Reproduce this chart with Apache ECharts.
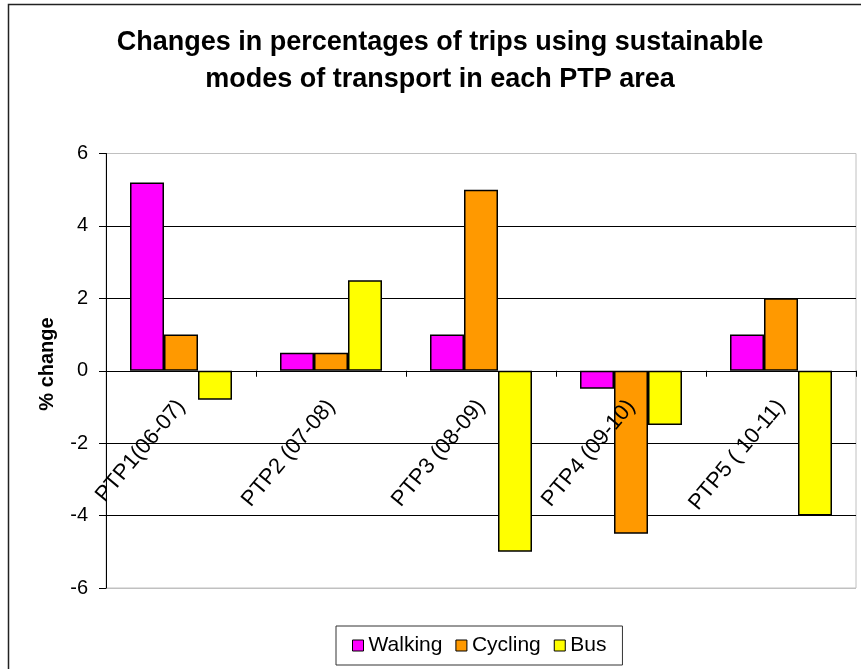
<!DOCTYPE html>
<html>
<head>
<meta charset="utf-8">
<script src="https://cdn.jsdelivr.net/npm/echarts@6/dist/echarts.min.js"></script>
<style>
  html, body { margin: 0; padding: 0; background: #fff; }
  #chart { width: 861px; height: 669px; }
</style>
</head>
<body>
<div id="chart"></div>
<script>
// PTP areas and the change in share of trips for each sustainable mode
const categories = ['PTP1(06-07)', 'PTP2 (07-08)', 'PTP3 (08-09)', 'PTP4 (09-10)', 'PTP5 ( 10-11)'];
const walking = [5.2, 0.5, 1, -0.5, 1];
const cycling = [1, 0.5, 5, -4.5, 2];
const bus = [-0.8, 2.5, -5, -1.5, -4];
const yTicks = { min: -6, max: 6, interval: 2 };

const FONT = '"Liberation Sans", Arial, sans-serif';

const GRID_TOP = 153.5;
const GRID_BOTTOM = 81;
const CHART_H = 669;

const chart = echarts.init(document.getElementById('chart'), null, { renderer: 'canvas' });

// the category axis sits on the zero line: shift it up from the grid bottom
const plotH = CHART_H - GRID_TOP - GRID_BOTTOM;
const zeroOffset = -plotH * (0 - yTicks.min) / (yTicks.max - yTicks.min);

function barSeries(name, data, color) {
  return {
    name: name,
    type: 'bar',
    data: data,
    barWidth: 34,
    barGap: '0%',
    itemStyle: { color: color, borderColor: '#000', borderWidth: 1.5 }
  };
}

chart.setOption({
  backgroundColor: '#fff',
  animation: false,
  graphic: [
    // outer chart frame
    { type: 'rect', z: -10, silent: true,
      shape: { x: 8.5, y: 4.5, width: 1000, height: 1000 },
      style: { fill: 'none', stroke: '#222', lineWidth: 1.5 } },
    { type: 'text', x: 440, y: 43,
      style: { text: 'Changes in percentages of trips using sustainable', font: 'bold 27px ' + FONT,
               fill: '#000', textAlign: 'center', textVerticalAlign: 'middle' } },
    { type: 'text', x: 440, y: 80,
      style: { text: 'modes of transport in each PTP area', font: 'bold 27px ' + FONT,
               fill: '#000', textAlign: 'center', textVerticalAlign: 'middle' } },
    { type: 'text', x: 47, y: 364, rotation: Math.PI / 2,
      style: { text: '% change', font: 'bold 20px ' + FONT,
               fill: '#000', textAlign: 'center', textVerticalAlign: 'middle' } }
  ],
  grid: {
    left: 106, right: 5, top: GRID_TOP, bottom: GRID_BOTTOM,
    outerBoundsMode: 'none',
    containLabel: false,
    show: true, borderColor: '#c0c0c0', borderWidth: 1, backgroundColor: 'transparent'
  },
  legend: {
    left: 336, top: 626,
    padding: [9, 16],
    itemWidth: 11, itemHeight: 11, itemGap: 13,
    icon: 'rect',
    borderColor: '#333', borderWidth: 1,
    itemStyle: { borderColor: '#000', borderWidth: 1 },
    textStyle: { fontFamily: FONT, fontSize: 21, color: '#000' },
    data: ['Walking', 'Cycling', 'Bus']
  },
  xAxis: {
    type: 'category',
    data: categories,
    z: 5,
    position: 'bottom',
    offset: zeroOffset,
    axisLine: { onZero: false, lineStyle: { color: '#000', width: 1 } },
    axisTick: { show: true, length: 6, lineStyle: { color: '#000' } },
    axisLabel: { rotate: 50, margin: 32, fontFamily: FONT, fontSize: 22, color: '#000', interval: 0 },
    splitLine: { show: false }
  },
  yAxis: {
    type: 'value',
    min: yTicks.min, max: yTicks.max, interval: yTicks.interval,
    axisLine: { show: true, lineStyle: { color: '#000', width: 1 } },
    axisTick: { show: true, length: 7, lineStyle: { color: '#000' } },
    axisLabel: { margin: 18, fontFamily: FONT, fontSize: 20, color: '#000' },
    splitLine: { show: true, lineStyle: { color: ['#c0c0c0', '#000', '#000', '#000', '#000', '#000', '#c0c0c0'], width: 1 } }
  },
  series: [
    barSeries('Walking', walking, '#FF00FF'),
    barSeries('Cycling', cycling, '#FF9900'),
    barSeries('Bus', bus, '#FFFF00')
  ]
});
</script>
</body>
</html>
